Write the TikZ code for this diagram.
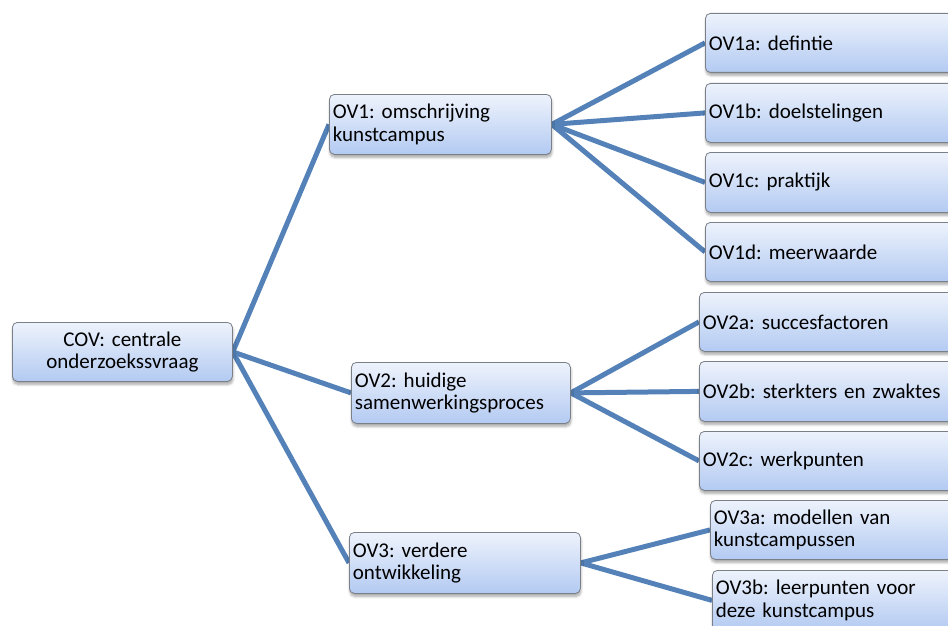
\documentclass[tikz,border=0pt]{standalone}
\usepackage{fontspec}
\setmainfont{Carlito}
\usetikzlibrary{shadows.blur,backgrounds}
\definecolor{boxtop}{HTML}{EEF3FC}
\definecolor{boxbot}{HTML}{B3CAF2}
\definecolor{boxline}{HTML}{7A7F88}
\definecolor{link}{HTML}{5482B8}
\tikzset{
  box/.style={draw=boxline, line width=0.8pt, rounded corners=5pt,
    top color=boxtop, bottom color=boxbot, anchor=north west,
    inner xsep=3.5pt, inner ysep=2pt,
    font=\fontsize{21}{22.5}\selectfont\frenchspacing,
    blur shadow={shadow xshift=0.5pt, shadow yshift=-3pt, shadow blur steps=6,
      shadow opacity=35, shadow blur radius=2.5pt}},
  leftbox/.style 2 args={box, minimum width=#1pt, minimum height=#2pt,
    text width=#1pt-7pt, align=left},
  midbox/.style 2 args={box, minimum width=#1pt, minimum height=#2pt,
    text width=#1pt-7pt, align=center},
  conn/.style={draw=link, line width=5pt}
}
\begin{document}
\begin{tikzpicture}[x=1pt,y=-1pt]
\useasboundingbox (0,0) rectangle (948,626);
\clip (0,0) rectangle (948,626);

% root question
\node[midbox={220}{59}] (cov) at (12,322) {COV: centrale\\onderzoekssvraag};

% sub questions
\node[leftbox={222}{60}] (ov1) at (329,94)  {OV1: omschrijving\\kunstcampus};
\node[leftbox={219}{61}] (ov2) at (351,362) {OV2: huidige\\samenwerkingsproces};
\node[leftbox={231}{61}] (ov3) at (349,532) {OV3: verdere\\ontwikkeling};

% leaves of OV1
\node[leftbox={260}{59}] (ov1a) at (705,13)  {OV1a: defintie};
\node[leftbox={260}{59}] (ov1b) at (705,83)  {OV1b: doelstelingen};
\node[leftbox={260}{60}] (ov1c) at (705,152) {OV1c: praktijk};
\node[leftbox={260}{59}] (ov1d) at (705,222) {OV1d: meerwaarde};

% leaves of OV2
\node[leftbox={260}{59}] (ov2a) at (699,292) {OV2a: succesfactoren};
\node[leftbox={260}{60}] (ov2b) at (699,361) {OV2b: sterkters en zwaktes};
\node[leftbox={260}{59}] (ov2c) at (699,431) {OV2c: werkpunten};

% leaves of OV3
\node[leftbox={260}{59}] (ov3a) at (710,500) {OV3a: modellen van\\kunstcampussen};
\node[leftbox={260}{60}] (ov3b) at (712,570) {OV3b: leerpunten voor\\deze kunstcampus};

% connectors behind the boxes
\begin{pgfonlayer}{background}
  \foreach \t in {ov1,ov2,ov3} \draw[conn] (cov.east) -- (\t.west);
  \foreach \t in {ov1a,ov1b,ov1c,ov1d} \draw[conn] (ov1.east) -- (\t.west);
  \foreach \t in {ov2a,ov2b,ov2c} \draw[conn] (ov2.east) -- (\t.west);
  \foreach \t in {ov3a,ov3b} \draw[conn] (ov3.east) -- (\t.west);
\end{pgfonlayer}
\end{tikzpicture}
\end{document}
